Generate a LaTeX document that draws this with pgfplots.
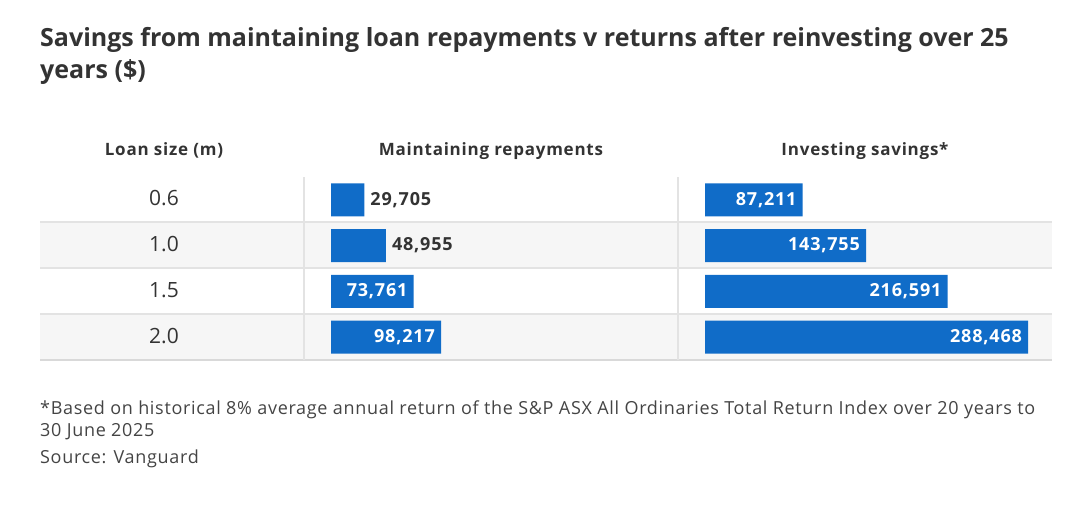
\documentclass[border=0pt]{standalone}
\usepackage{pgfplots}
\pgfplotsset{compat=1.18}
\usepackage{fontspec}
\setmainfont{Open Sans}
\newfontfamily\wide[LetterSpace=3.8]{Open Sans}
\newfontfamily\wider[LetterSpace=4.5]{Open Sans}
\definecolor{barblue}{HTML}{106CC8}
\definecolor{txt}{HTML}{333333}
\definecolor{foot}{HTML}{444444}
\definecolor{rowgrey}{HTML}{F6F6F6}
\definecolor{linegrey}{HTML}{E3E3E3}
\definecolor{botgrey}{HTML}{D9D9D9}
\pgfplotstableread{
x y
29705 0
48955 1
}\maintout
\pgfplotstableread{
x y
73761 2
98217 3
}\maintin
\pgfplotstableread{
x y
87211 0
143755 1
216591 2
288468 3
}\invest
\begin{document}
\begin{tikzpicture}[x=1pt,y=1pt]
\path[use as bounding box] (0,0) rectangle (1080,504);
% row backgrounds
\fill[rowgrey] (40,{504-268}) rectangle (1052,{504-222});
\fill[rowgrey] (40,{504-360}) rectangle (1052,{504-314});
\draw[linegrey, line width=1.2pt] (40,{504-222}) -- (1052,{504-222});
\draw[linegrey, line width=1.2pt] (40,{504-268}) -- (1052,{504-268});
\draw[linegrey, line width=1.2pt] (40,{504-314}) -- (1052,{504-314});
\draw[botgrey, line width=1.6pt] (40,{504-360}) -- (1052,{504-360});
\draw[linegrey, line width=1.2pt] (304,{504-177}) -- (304,{504-360});
\draw[linegrey, line width=1.2pt] (678,{504-177}) -- (678,{504-360});
% title
\node[anchor=base west, inner sep=0pt, text=txt, font=\fontsize{25}{29}\selectfont\bfseries] at (40,{504-47}) {Savings from maintaining loan repayments v returns after reinvesting over 25};
\node[anchor=base west, inner sep=0pt, text=txt, font=\fontsize{25}{29}\selectfont\bfseries] at (40,{504-79}) {years (\$)};
% headers
\foreach \cx/\t in {164/{Loan size (m)}, 491/{Maintaining repayments}, 865/{Investing savings*}}{
  \node[anchor=base, inner sep=0pt, text=txt, font=\wider\fontsize{17}{19}\selectfont\bfseries] at (\cx,{504-156}) {\t};
}
% row labels
\foreach \yy/\t in {206/0.6, 251.5/1.0, 297.5/1.5, 343.5/2.0}{
  \node[anchor=base, inner sep=0pt, text=txt, font=\fontsize{21}{24}\selectfont] at (164,{504-\yy}) {\t};
}
% footnotes
\node[anchor=base west, inner sep=0pt, text=foot, font=\wide\fontsize{18}{20}\selectfont] at (40,{504-415}) {*Based on historical 8\% average annual return of the S\&P ASX All Ordinaries Total Return Index over 20 years to};
\node[anchor=base west, inner sep=0pt, text=foot, font=\wide\fontsize{18}{20}\selectfont] at (40,{504-437}) {30 June 2025};
\node[anchor=base west, inner sep=0pt, text=foot, font=\wide\fontsize{18}{20}\selectfont] at (40,{504-463}) {Source: Vanguard};
\pgfplotsset{tblbar/.style={
  scale only axis, hide axis, xbar, bar width=33pt, bar shift=0pt,
  width=330pt, height=183pt, xmin=0, xmax={330/0.00112},
  ymin=-0.5, ymax=3.5, y dir=reverse, clip=false,
  point meta=x,
  nodes near coords={\pgfmathprintnumber[fixed, precision=0, 1000 sep={,}, assume math mode=true]{\pgfplotspointmeta}},
}}
\begin{axis}[tblbar, at={(331pt,327pt)}, anchor=north west]
\addplot[fill=barblue, draw=none, nodes near coords style={anchor=west, xshift=6pt, inner sep=0pt, text=txt, font=\wider\fontsize{18}{20}\selectfont\bfseries}] table[x=x, y=y] {\maintout};
\addplot[fill=barblue, draw=none, nodes near coords style={anchor=east, xshift=-6pt, inner sep=0pt, text=white, font=\wider\fontsize{18}{20}\selectfont\bfseries}] table[x=x, y=y] {\maintin};
\end{axis}
\begin{axis}[tblbar, at={(705pt,327pt)}, anchor=north west]
\addplot[fill=barblue, draw=none, nodes near coords style={anchor=east, xshift=-6pt, inner sep=0pt, text=white, font=\wider\fontsize{18}{20}\selectfont\bfseries}] table[x=x, y=y] {\invest};
\end{axis}
\end{tikzpicture}
\end{document}
